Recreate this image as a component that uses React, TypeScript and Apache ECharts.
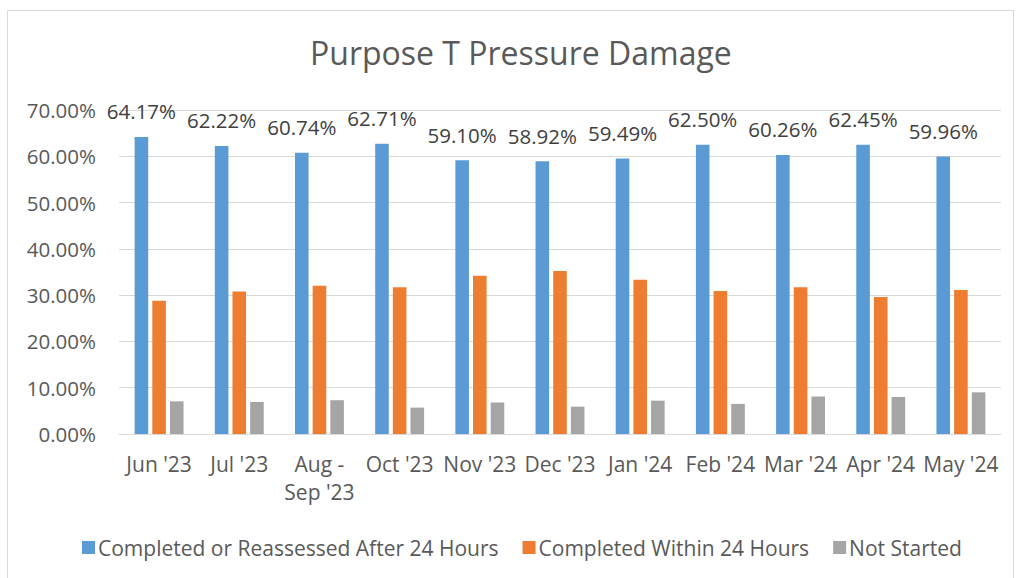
import React, { useEffect, useRef } from "react";
import * as echarts from "echarts";

const categories = ["Jun '23", "Jul '23", "Aug -\nSep '23", "Oct '23", "Nov '23", "Dec '23", "Jan '24", "Feb '24", "Mar '24", "Apr '24", "May '24"];
const completedAfter = [64.17, 62.22, 60.74, 62.71, 59.1, 58.92, 59.49, 62.5, 60.26, 62.45, 59.96];
const completedWithin = [28.8, 30.8, 32.0, 31.7, 34.2, 35.2, 33.3, 30.9, 31.7, 29.6, 31.1];
const notStarted = [7.05, 6.9, 7.3, 5.7, 6.8, 5.9, 7.2, 6.5, 8.1, 8.0, 9.0];
const seriesNames = ["Completed or Reassessed After 24 Hours", "Completed Within 24 Hours", "Not Started"];

const FONT = "'Open Sans', sans-serif";
const TXT = "#595959";

export default function App() {
  const ref = useRef<HTMLDivElement>(null);
  useEffect(() => {
    document.body.style.margin = "0";
    const chart = echarts.init(ref.current!, null, { renderer: "svg" });
    chart.setOption({
      animation: false,
      backgroundColor: "#ffffff",
      textStyle: { fontFamily: FONT, color: TXT },
      title: {
        text: "Purpose T Pressure Damage",
        left: 305,
        top: 31,
        textStyle: { fontFamily: FONT, fontSize: 32, fontWeight: "normal", color: TXT },
      },
      graphic: [
        {
          type: "rect",
          shape: { x: 7.5, y: 10.5, width: 1006, height: 600 },
          style: { fill: "none", stroke: "#d9d9d9", lineWidth: 1 },
          silent: true,
        },
      ],
      legend: {
        bottom: 15,
        left: 77,
        itemWidth: 13,
        itemHeight: 13,
        itemGap: 24,
        icon: "rect",
        textStyle: { fontFamily: FONT, fontSize: 21, color: TXT, padding: [0, 0, 0, -2] },
        data: seriesNames,
      },
      grid: { left: 119, right: 16, top: 109.9, bottom: 144, containLabel: false },
      xAxis: {
        type: "category",
        data: categories,
        axisLine: { lineStyle: { color: "#d9d9d9", width: 1 } },
        axisTick: { show: false },
        axisLabel: { fontFamily: FONT, fontSize: 21, color: TXT, margin: 16, lineHeight: 28, interval: 0 },
      },
      yAxis: {
        type: "value",
        min: 0,
        max: 70,
        interval: 10,
        axisLine: { show: false },
        axisTick: { show: false },
        splitLine: { lineStyle: { color: "#d9d9d9", width: 1 } },
        axisLabel: {
          fontFamily: FONT,
          fontSize: 20.5,
          color: TXT,
          margin: 23,
          formatter: (v: number) => v.toFixed(2) + "%",
        },
      },
      series: [
        {
          name: seriesNames[0],
          type: "bar",
          data: completedAfter,
          itemStyle: { color: "#5B9BD5" },
          barGap: "30%",
          barCategoryGap: "39%",
          label: {
            show: true,
            position: "top",
            distance: 15,
            fontFamily: FONT,
            fontSize: 20.5,
            color: "#404040",
            formatter: (p: any) => p.value.toFixed(2) + "%",
          },
        },
        {
          name: seriesNames[1],
          type: "bar",
          data: completedWithin,
          itemStyle: { color: "#ED7D31" },
          barGap: "30%",
          barCategoryGap: "39%",
        },
        {
          name: seriesNames[2],
          type: "bar",
          data: notStarted,
          itemStyle: { color: "#A5A5A5" },
          barGap: "30%",
          barCategoryGap: "39%",
        },
      ],
    });
    return () => chart.dispose();
  }, []);
  return <div ref={ref} style={{ width: 1017, height: 578 }} />;
}
